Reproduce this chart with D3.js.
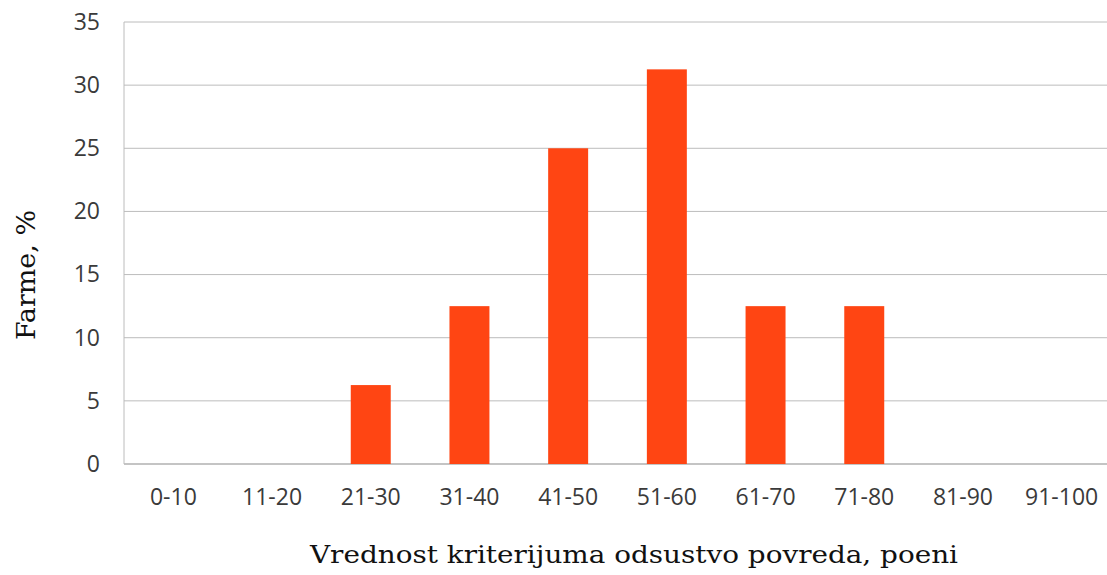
<!DOCTYPE html>
<html>
<head>
<meta charset="utf-8">
<script src="https://cdn.jsdelivr.net/npm/d3@7"></script>
<style>
  body { margin: 0; background: #fff; overflow: hidden; }
  .tick text { font-family: "Open Sans", sans-serif; font-size: 23px; fill: #3a3a3a; }
</style>
</head>
<body>
<div class="app"></div>
<script>
// Values.
var categories = ["0-10", "11-20", "21-30", "31-40", "41-50", "51-60", "61-70", "71-80", "81-90", "91-100"];
var farmPercent = [0, 0, 6.25, 12.5, 25, 31.25, 12.5, 12.5, 0, 0];
var yTicks = [0, 5, 10, 15, 20, 25, 30, 35];

var W = 1107, H = 575,
    margin = {top: 22, left: 124},
    width = 987,          // plot runs a little past the right edge of the picture
    height = 442;

var svg = d3.select(".app").append("svg")
    .attr("width", W)
    .attr("height", H);

var x = d3.scaleBand().domain(categories).range([0, width]).paddingInner(0.595).paddingOuter(0.2975),
    y = d3.scaleLinear().domain([0, 35]).range([height, 0]);

var g = svg.append("g")
    .attr("transform", "translate(" + margin.left + "," + margin.top + ")");

// gridlines
g.append("g")
    .attr("class", "grid")
    .selectAll("line")
    .data(yTicks)
    .enter()
    .append("line")
    .attr("x1", 0)
    .attr("x2", width)
    .attr("y1", function(d){ return y(d); })
    .attr("y2", function(d){ return y(d); })
    .attr("stroke", function(d){ return d === 0 ? "#b0b0b0" : "#bcbcbc"; })
    .attr("stroke-width", function(d){ return d === 0 ? 1.5 : 1; });

// left axis line
g.append("line")
    .attr("x1", 0).attr("x2", 0)
    .attr("y1", 0).attr("y2", height)
    .attr("stroke", "#bcbcbc");

var yAxis = d3.axisLeft(y).tickValues(yTicks).tickSize(0).tickPadding(24);
g.append("g").call(yAxis).call(function(a){ a.select(".domain").remove(); });

var xAxis = d3.axisBottom(x).tickSize(0).tickPadding(25);
g.append("g")
    .attr("transform", "translate(0," + height + ")")
    .call(xAxis)
    .call(function(a){ a.select(".domain").remove(); });

g.selectAll("rect.bar")
    .data(farmPercent)
    .enter()
    .append("rect")
    .attr("class", "bar")
    .attr("x", function(d, i){ return x(categories[i]); })
    .attr("width", x.bandwidth())
    .attr("y", function(d){ return y(d); })
    .attr("height", function(d){ return height - y(d); })
    .attr("fill", "#ff4513");

svg.append("text")
    .attr("x", 634)
    .attr("y", 563)
    .style("text-anchor", "middle")
    .style("font-family", "'DejaVu Serif', serif")
    .style("font-size", "25px")
    .style("fill", "#111")
    .attr("textLength", 648)
    .attr("lengthAdjust", "spacingAndGlyphs")
    .text("Vrednost kriterijuma odsustvo povreda, poeni");

svg.append("text")
    .attr("transform", "translate(35,275) rotate(-90)")
    .style("text-anchor", "middle")
    .style("font-family", "'DejaVu Serif', serif")
    .style("font-size", "26px")
    .style("fill", "#111")
    .attr("textLength", 130)
    .attr("lengthAdjust", "spacingAndGlyphs")
    .text("Farme, %");
</script>
</body>
</html>
